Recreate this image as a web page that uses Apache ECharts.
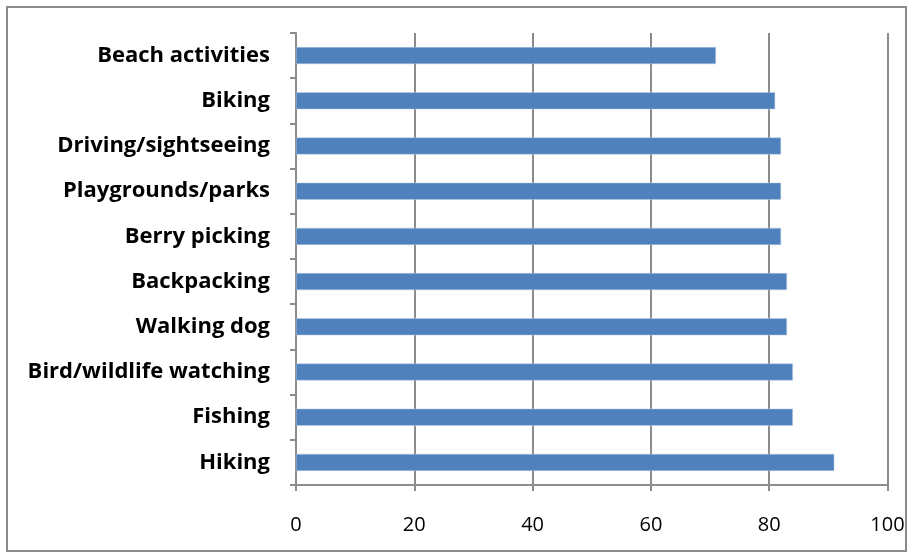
<!DOCTYPE html>
<html><head><meta charset="utf-8">
<script src="https://cdn.jsdelivr.net/npm/echarts@6/dist/echarts.min.js"></script>
<style>html,body{margin:0;padding:0;background:#fff}#c{width:912px;height:557px}</style>
</head><body><div id="c"></div>
<script>
const categories = ["Beach activities","Biking","Driving/sightseeing","Playgrounds/parks","Berry picking","Backpacking","Walking dog","Bird/wildlife watching","Fishing","Hiking"];
const values = [71,81,82,82,82,83,83,84,84,91];
const xTicks = [0,20,40,60,80,100];

const chart = echarts.init(document.getElementById('c'), null, {renderer:'canvas'});
chart.setOption({
  animation:false,
  backgroundColor:'#fff',
  graphic:[{type:'rect',shape:{x:7,y:7,width:899,height:544},style:{fill:'none',stroke:'#8c8c8c',lineWidth:2}}],
  grid:{left:296,right:24.5,top:33,bottom:72,containLabel:false},
  xAxis:{type:'value',min:xTicks[0],max:xTicks[xTicks.length-1],interval:20,
    axisLine:{show:true,lineStyle:{color:'#8c8c8c',width:2}},
    axisTick:{show:true,length:6,lineStyle:{color:'#8c8c8c',width:2}},
    splitLine:{show:true,lineStyle:{color:'#8c8c8c',width:2}},
    axisLabel:{color:'#000',fontFamily:'Open Sans',fontSize:20,margin:30}},
  yAxis:{type:'category',data:categories,inverse:true,
    axisLine:{show:true,lineStyle:{color:'#8c8c8c',width:2}},
    axisTick:{show:true,length:6,alignWithLabel:false,lineStyle:{color:'#8c8c8c',width:2}},
    axisLabel:{color:'#000',fontFamily:'Open Sans',fontWeight:'bold',fontSize:22,margin:26}},
  series:[{type:'bar',data:values,barWidth:17,
    itemStyle:{color:'#4f81bd',borderColor:'#b9cde5',borderWidth:0.5}}]
});
</script></body></html>
